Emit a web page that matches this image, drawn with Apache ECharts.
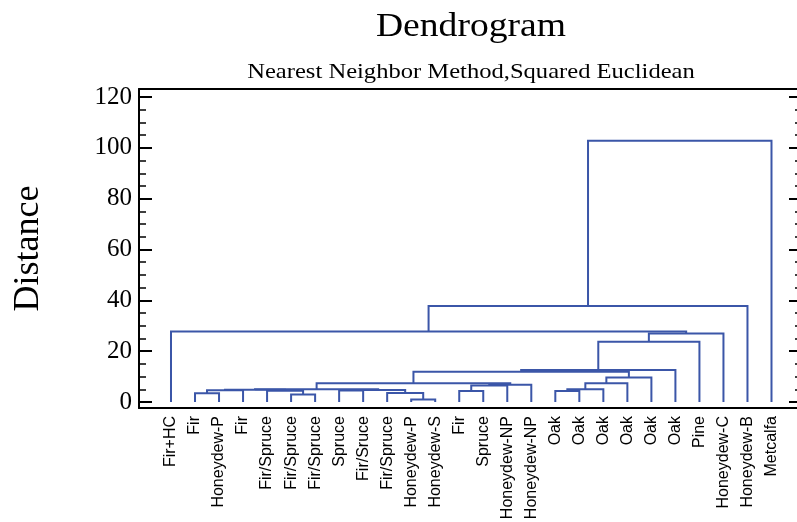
<!DOCTYPE html>
<html>
<head>
<meta charset="utf-8">
<script src="https://cdn.jsdelivr.net/npm/echarts@6/dist/echarts.min.js"></script>
<style>
  html, body { margin: 0; padding: 0; background: #fff; }
  #chart { width: 797px; height: 522px; }
</style>
</head>
<body>
<div id="chart"></div>
<script>
// leaves in dendrogram order (left to right)
const leafNames = ['Fir+HC', 'Fir', 'Honeydew-P', 'Fir', 'Fir/Spruce', 'Fir/Spruce', 'Fir/Spruce', 'Spruce',
  'Fir/Sruce', 'Fir/Spruce', 'Honeydew-P', 'Honeydew-S', 'Fir', 'Spruce', 'Honeydew-NP', 'Honeydew-NP',
  'Oak', 'Oak', 'Oak', 'Oak', 'Oak', 'Oak', 'Pine', 'Honeydew-C', 'Honeydew-B', 'Metcalfa'];

// merges: leaves are nodes 0..25, merge k creates node 26 + k
const mergeLeft   = [10, 5, 1, 9, 12, 16, 4, 7, 28, 33, 34, 36, 31, 30, 39, 37, 38, 42, 41, 44, 45, 46, 0, 48, 49];
const mergeRight  = [11, 6, 2, 26, 13, 17, 27, 8, 3, 29, 32, 35, 18, 14, 15, 40, 19, 20, 43, 21, 22, 23, 47, 24, 25];
const mergeHeight = [1.0, 3.0, 3.4, 3.5, 4.3, 4.3, 4.4, 4.5, 4.6, 4.7, 4.8, 5.0, 5.0, 6.5, 6.8, 7.4, 7.4, 9.6,
  11.9, 12.6, 23.7, 27.0, 27.7, 37.8, 102.8];

const majorTicks = [0, 20, 40, 60, 80, 100, 120];
const minorTicks = [5, 10, 15, 25, 30, 35, 45, 50, 55, 65, 70, 75, 85, 90, 95, 105, 110, 115];

// node positions: leaf i at x = i + 1, merged node at midpoint of its children
const nodeX = leafNames.map((_, i) => i + 1);
const nodeH = leafNames.map(() => 0);
const links = [];
mergeLeft.forEach((l, k) => {
  const r = mergeRight[k];
  const h = mergeHeight[k];
  links.push({ coords: [[nodeX[l], nodeH[l]], [nodeX[l], h], [nodeX[r], h], [nodeX[r], nodeH[r]]] });
  nodeX.push((nodeX[l] + nodeX[r]) / 2);
  nodeH.push(h);
});

const leafTicks = leafNames.map((_, i) => i + 1);
const serif = '"Liberation Serif", "Times New Roman", serif';
const yMin = -2.36, yMax = 123.15;
const frameLine = { show: true, onZero: false, lineStyle: { color: '#000', width: 2 } };

const chart = echarts.init(document.getElementById('chart'));
chart.setOption({
  animation: false,
  graphic: [
    { type: 'text', x: 471, y: 27, scaleX: 1.14,
      style: { text: 'Dendrogram', font: '33px ' + serif, fill: '#000', textAlign: 'center', textVerticalAlign: 'middle' } },
    { type: 'text', x: 471, y: 72, scaleX: 1.17,
      style: { text: 'Nearest Neighbor Method,Squared Euclidean', font: '21px ' + serif, fill: '#000', textAlign: 'center', textVerticalAlign: 'middle' } }
  ],
  grid: { left: 139, right: -5, top: 89, bottom: 114, outerBoundsMode: 'none', containLabel: false },
  xAxis: [
    {
      type: 'value', min: -0.332, max: 27.27,
      axisLine: frameLine,
      axisTick: { show: false },
      splitLine: { show: false },
      axisLabel: {
        customValues: leafTicks, rotate: 90, margin: 8,
        formatter: v => leafNames[v - 1] || '',
        fontFamily: '"Liberation Sans", Arial, sans-serif', fontSize: 16, color: '#000'
      }
    },
    {
      type: 'value', position: 'top', min: -0.332, max: 27.27,
      axisLine: frameLine,
      axisTick: { show: false }, axisLabel: { show: false }, splitLine: { show: false }
    }
  ],
  yAxis: [
    {
      type: 'value', position: 'left', min: yMin, max: yMax,
      name: 'Distance', nameLocation: 'middle', nameRotate: 90, nameGap: 92,
      nameTextStyle: { fontFamily: serif, fontSize: 36, color: '#000' },
      axisLine: frameLine,
      axisTick: { show: true, inside: true, length: 13, customValues: majorTicks, lineStyle: { color: '#000', width: 2 } },
      axisLabel: { customValues: majorTicks, margin: 7, fontFamily: serif, fontSize: 25, color: '#000' },
      splitLine: { show: false }
    },
    {
      type: 'value', position: 'left', min: yMin, max: yMax,
      axisLine: { show: false, onZero: false },
      axisTick: { show: true, inside: true, length: 7, customValues: minorTicks, lineStyle: { color: '#000', width: 1.5 } },
      axisLabel: { show: false }, splitLine: { show: false }
    },
    {
      type: 'value', position: 'right', min: yMin, max: yMax,
      axisLine: frameLine,
      axisTick: { show: true, inside: true, length: 13, customValues: majorTicks, lineStyle: { color: '#000', width: 2 } },
      axisLabel: { show: false }, splitLine: { show: false }
    },
    {
      type: 'value', position: 'right', min: yMin, max: yMax,
      axisLine: { show: false, onZero: false },
      axisTick: { show: true, inside: true, length: 7, customValues: minorTicks, lineStyle: { color: '#000', width: 1.5 } },
      axisLabel: { show: false }, splitLine: { show: false }
    }
  ],
  series: [
    {
      type: 'lines',
      coordinateSystem: 'cartesian2d',
      xAxisIndex: 0, yAxisIndex: 0,
      polyline: true,
      silent: true,
      lineStyle: { color: '#3b56a8', width: 2, opacity: 1 },
      data: links
    }
  ]
});
</script>
</body>
</html>
